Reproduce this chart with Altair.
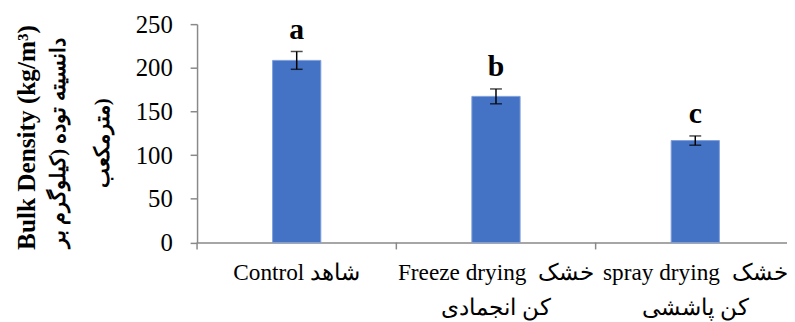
import altair as alt
import pandas as pd

categories = ["Control شاهد",
              "Freeze drying\u00a0\u00a0خشک|کن انجمادی",
              "spray drying\u00a0\u00a0خشک|کن پاششی"]
means = [208.5, 167.3, 116.7]
errors = [10.2, 8.5, 5.3]
letters = ["a", "b", "c"]
y_ticks = [0, 50, 100, 150, 200, 250]
y_title_latin = "Bulk Density (kg/m³)"
y_title_persian = ["دانسیته توده (کیلوگرم بر", "مترمکعب)"]

df = pd.DataFrame({"cat": categories, "mean": means, "err": errors, "letter": letters})
df["lo"] = df["mean"] - df["err"]
df["hi"] = df["mean"] + df["err"]

FONT = "Liberation Serif"
GRAY = "#898989"

xscale = alt.Scale(type="band", domain=categories, range=[0, 604],
                   paddingInner=0, paddingOuter=0)
yscale = alt.Scale(domain=[0, 250], nice=False)

x_axis = alt.Axis(title=None, ticks=False, domainColor=GRAY, domainWidth=1.5,
                  labelAngle=0, labelFont=FONT, labelFontSize=23.5, labelColor="black",
                  labelPadding=18, labelLineHeight=36, labelLimit=400,
                  labelExpr="split(datum.label, '|')")
y_axis = alt.Axis(values=y_ticks, grid=False, domainColor=GRAY, domainWidth=1.5,
                  tickColor=GRAY, tickSize=7, tickWidth=1.5,
                  labelFont=FONT, labelFontSize=25, labelColor="black", labelPadding=18,
                  title=y_title_latin, titleFont=FONT, titleFontSize=25.5,
                  titleFontWeight="bold", titleColor="black",
                  titleBaseline="alphabetic", titleAlign="center",
                  titleX=-164, titleY=114)

base = alt.Chart(df)

bars = base.mark_bar(width=alt.RelativeBandSize(0.242), color="#4472C4",
                     stroke="#7f9fdc", strokeWidth=1).encode(
    x=alt.X("cat:N", scale=xscale, axis=x_axis),
    y=alt.Y("mean:Q", scale=yscale, axis=y_axis),
)

err_rule = base.mark_rule(color="black", strokeWidth=1.5).encode(
    x=alt.X("cat:N", scale=xscale),
    y=alt.Y("lo:Q", scale=yscale),
    y2="hi:Q",
)
cap_hi = base.mark_tick(color="black", size=12, thickness=1.5).encode(
    x=alt.X("cat:N", scale=xscale),
    y=alt.Y("hi:Q", scale=yscale),
)
cap_lo = base.mark_tick(color="black", size=12, thickness=1.5).encode(
    x=alt.X("cat:N", scale=xscale),
    y=alt.Y("lo:Q", scale=yscale),
)
sep = base.mark_rule(color=GRAY, strokeWidth=1.5).encode(
    x=alt.X("cat:N", scale=xscale, bandPosition=0),
    y=alt.value(220.6),
    y2=alt.value(227.6),
)
text = base.mark_text(font=FONT, fontSize=30, fontWeight="bold", color="black",
                      baseline="alphabetic", dy=-13, dx=0).encode(
    x=alt.X("cat:N", scale=xscale),
    y=alt.Y("hi:Q", scale=yscale),
    text="letter:N",
)

persian_title = alt.Chart(pd.DataFrame({"k": [0]})).mark_text(
    text=y_title_persian, angle=270, font=FONT, fontSize=21, fontWeight="bold",
    color="black", align="center", baseline="middle", lineHeight=45,
).encode(x=alt.value(-139.5), y=alt.value(120.3))

chart = alt.layer(bars, err_rule, cap_hi, cap_lo, sep, text, persian_title).properties(
    width=588, height=220.6,
    autosize=alt.AutoSizeParams(type="none"),
    padding={"left": 191, "top": 14.7, "right": 8, "bottom": 78.7},
).configure_view(stroke=None)

chart.save("out.html", embed_options={"renderer": "svg", "actions": False})
